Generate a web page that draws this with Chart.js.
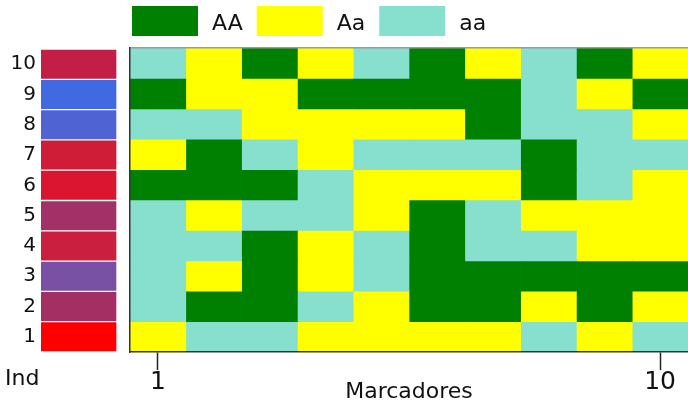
<!DOCTYPE html>
<html><head><meta charset="utf-8">
<script src="https://cdn.jsdelivr.net/npm/chart.js@4/dist/chart.umd.min.js"></script>
<style>
html,body{margin:0;padding:0;background:#fff;}
#wrap{position:relative;width:688px;height:403px;overflow:hidden;background:#fff;}
#wrap canvas{position:absolute;left:0;top:0;}
</style></head><body>
<div id="wrap">
<canvas id="main" width="688" height="403"></canvas>
<canvas id="strip" width="125" height="403"></canvas>
</div>
<script>
// ---- data ----
const individuals = ['1','2','3','4','5','6','7','8','9','10'];
const markers = ['1','2','3','4','5','6','7','8','9','10'];
const xTickLabels = ['1','10'];
const genotypeNames = ['AA','Aa','aa'];
const genotypeColors = ['#008000','#FFFF00','#87DFCE'];
// colour of each individual (1..10)
const stripColors = ['#FF0000','#A42F62','#7850A4','#CB1F3F','#A23265',
                     '#DB1530','#CF1C37','#4F63D3','#4169E1','#C21E46'];
// genotype of individual (row, 1..10) at marker (column, 1..10)
const ind1  = ['Aa','aa','aa','Aa','Aa','Aa','Aa','aa','Aa','aa'];
const ind2  = ['aa','AA','AA','aa','Aa','AA','AA','Aa','AA','Aa'];
const ind3  = ['aa','Aa','AA','Aa','aa','AA','AA','AA','AA','AA'];
const ind4  = ['aa','aa','AA','Aa','aa','AA','aa','aa','Aa','Aa'];
const ind5  = ['aa','Aa','aa','aa','Aa','AA','aa','Aa','Aa','Aa'];
const ind6  = ['AA','AA','AA','aa','Aa','Aa','Aa','AA','aa','Aa'];
const ind7  = ['Aa','AA','aa','Aa','aa','aa','aa','AA','aa','aa'];
const ind8  = ['aa','aa','Aa','Aa','Aa','Aa','AA','aa','aa','Aa'];
const ind9  = ['AA','Aa','Aa','AA','AA','AA','AA','aa','Aa','AA'];
const ind10 = ['aa','Aa','AA','Aa','aa','AA','Aa','aa','AA','Aa'];
const genotypes = [ind1, ind2, ind3, ind4, ind5, ind6, ind7, ind8, ind9, ind10];

// ---- styling ----
Chart.defaults.font.family = '"DejaVu Sans", sans-serif';
Chart.defaults.color = '#111';
const colorOf = g => genotypeColors[genotypeNames.indexOf(g)];

const legendPlugin = {
  id: 'genoLegend',
  afterDraw(chart) {
    const ctx = chart.ctx;
    ctx.save();
    ctx.font = '22px "DejaVu Sans"';
    ctx.textBaseline = 'alphabetic';
    let x = 132;
    genotypeNames.forEach((g, i) => {
      ctx.fillStyle = genotypeColors[i];
      ctx.fillRect(x, 6, 66, 30);
      x += 66 + 14;
      ctx.fillStyle = '#111';
      ctx.fillText(g, x, 29.5);
      x += ctx.measureText(g).width + 14;
    });
    ctx.restore();
  }
};

// ---- main heat map (stacked horizontal bars, one stack segment per marker) ----
new Chart(document.getElementById('main'), {
  type: 'bar',
  data: {
    labels: individuals,
    datasets: markers.map((m, j) => ({
      label: 'Marcador ' + m,
      data: individuals.map(() => 1),
      backgroundColor: genotypes.map(row => colorOf(row[j])),
      borderWidth: 0,
      barPercentage: 1,
      categoryPercentage: 1
    }))
  },
  options: {
    responsive: false,
    animation: false,
    indexAxis: 'y',
    layout: { padding: { left: 130, top: 48, right: 0, bottom: 0 } },
    plugins: { legend: { display: false }, tooltip: { enabled: false }, title: { display: false } },
    scales: {
      x: {
        type: 'linear', stacked: true, min: 0, max: 10,
        afterBuildTicks: s => { s.ticks = xTickLabels.map(l => ({ value: markers.indexOf(l) + 0.5 })); },
        afterFit: s => { s.height = 51; },
        ticks: {
          callback: (v, i) => xTickLabels[i],
          font: { size: 25, lineHeight: 1 }, color: '#111', padding: 0,
          maxRotation: 0, autoSkip: false
        },
        grid: { display: true, drawOnChartArea: false, drawTicks: true, tickLength: 18, tickColor: '#222', tickWidth: 1.5 },
        border: { display: true, color: '#333', width: 1.5, z: 1 },
        title: { display: true, text: 'Marcadores', font: { size: 22, lineHeight: 1 }, color: '#111', padding: { top: 0, bottom: 0 } }
      },
      x2: {
        type: 'linear', position: 'top', min: 0, max: 10,
        ticks: { display: false },
        grid: { display: false, drawTicks: false },
        border: { display: true, color: '#9a9a9a', width: 1.5, z: 1 }
      },
      y: {
        stacked: true, reverse: true,
        ticks: { display: false },
        grid: { display: false, drawTicks: false },
        border: { display: true, color: '#333', width: 1.5, z: 1 }
      }
    }
  },
  plugins: [legendPlugin]
});

// ---- individual colour strip ----
new Chart(document.getElementById('strip'), {
  type: 'bar',
  data: {
    labels: individuals,
    datasets: [{
      label: 'Ind',
      data: individuals.map(() => 1),
      backgroundColor: stripColors,
      borderColor: 'rgba(255,255,255,0.3)',
      borderWidth: 1,
      barPercentage: 1,
      categoryPercentage: 1
    }]
  },
  options: {
    responsive: false,
    animation: false,
    indexAxis: 'y',
    layout: { padding: { left: 5, top: 49, right: 8, bottom: 0 } },
    plugins: {
      legend: { display: false }, tooltip: { enabled: false },
      title: {
        display: true, text: 'Ind', position: 'bottom', align: 'start',
        font: { size: 22, weight: 'normal', lineHeight: 1 }, color: '#111',
        padding: { top: 16.5, bottom: 12.5 }
      }
    },
    scales: {
      x: { display: false, min: 0, max: 1 },
      y: {
        reverse: true,
        afterFit: s => { s.width = 36; },
        ticks: { font: { size: 20 }, color: '#111', padding: 5 },
        grid: { display: false, drawTicks: false },
        border: { display: false }
      }
    }
  }
});
</script>
</body></html>
